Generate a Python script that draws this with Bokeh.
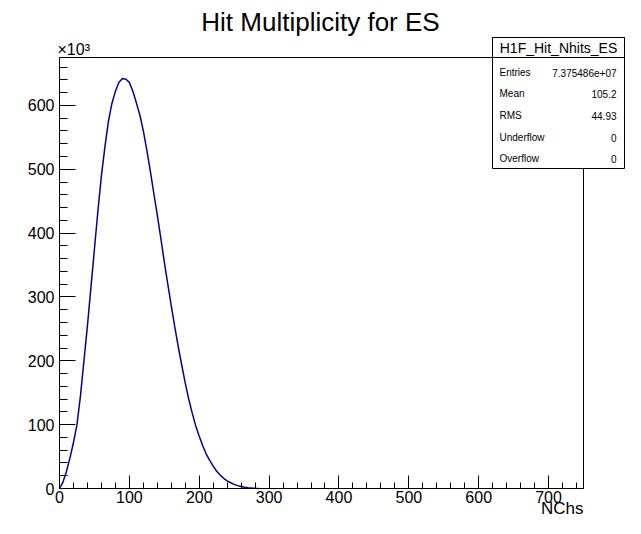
from bokeh.plotting import figure
from bokeh.models import Range1d, FixedTicker, Label, BoxAnnotation
from bokeh.embed import file_html
from bokeh.resources import INLINE

# ---------------- data ----------------
title_text = "Hit Multiplicity for ES"
x_label = "NChs"
y_scale_text = "\u00d710\u00b3"

nchs = [0, 5, 10, 15, 20, 25, 30, 35, 40, 45, 50, 55, 60, 65, 70, 75, 80, 85,
        90, 95, 100, 105, 110, 115, 120, 125, 130, 135, 140, 145, 150, 155,
        160, 165, 170, 175, 180, 185, 190, 195, 200, 205, 210, 215, 220, 225,
        230, 235, 240, 245, 250, 255, 260, 265, 270, 275, 280, 285]
counts_k = [0, 10, 27, 48, 72, 100, 145, 200, 255, 315, 375, 435, 490, 535,
            575, 603, 622, 636, 642, 641, 636, 622, 604, 585, 560, 530, 497,
            462, 428, 392, 355, 320, 286, 253, 222, 193, 165, 140, 118, 98, 82,
            67, 54, 44, 35, 27, 21, 16, 12, 9, 6.5, 4.5, 3, 2, 1.2, 0.6, 0.2, 0]

x_limits = [0, 750]
y_limits = [0, 675]
x_ticks = [0, 100, 200, 300, 400, 500, 600, 700]
x_tick_labels = ["0", "100", "200", "300", "400", "500", "600", "700"]
x_minor_ticks = list(range(0, 751, 20))
y_ticks = [0, 100, 200, 300, 400, 500, 600]
y_tick_labels = ["0", "100", "200", "300", "400", "500", "600"]
y_minor_ticks = list(range(0, 675, 20))

stats_name = "H1F_Hit_Nhits_ES"
stats_keys = ["Entries", "Mean", "RMS", "Underflow", "Overflow"]
stats_vals = ["7.375486e+07", "105.2", "44.93", "0", "0"]

FONT = "Liberation Sans"

# ---------------- layout (canvas pixels) ----------------
W, H = 625, 518
FL, FR, FT, FB = 59, 583, 57, 488      # histogram frame edges on the canvas

kx = (FR - FL) / (x_limits[1] - x_limits[0])
ky = (FB - FT) / (y_limits[1] - y_limits[0])
x_range = Range1d(x_limits[0] - FL / kx, x_limits[1] + (W - FR) / kx)
y_range = Range1d(y_limits[0] - (H - FB) / ky, y_limits[1] + FT / ky)


def sy(py):
    return H - py


p = figure(width=W, height=H, x_range=x_range, y_range=y_range,
           output_backend="svg", toolbar_location=None, title=None,
           min_border=0, min_border_left=0, min_border_right=0,
           min_border_top=0, min_border_bottom=0)
p.background_fill_color = "white"
p.border_fill_color = "white"
p.outline_line_color = None
p.xgrid.visible = False
p.ygrid.visible = False

# histogram frame
p.quad(left=[x_limits[0]], right=[x_limits[1]], bottom=[y_limits[0]], top=[y_limits[1]],
       fill_color=None, line_color="black", line_width=1)

p.line(nchs, counts_k, line_color="#000099", line_width=1.5)

xa = p.xaxis[0]
xa.fixed_location = y_limits[0]
xa.bounds = (x_limits[0], x_limits[1])
xa.ticker = FixedTicker(ticks=x_ticks, minor_ticks=x_minor_ticks)
xa.major_label_overrides = {t: l for t, l in zip(x_ticks, x_tick_labels)}
xa.major_tick_in = 13
xa.major_tick_out = 0
xa.minor_tick_in = 6
xa.minor_tick_out = 0
xa.major_label_standoff = 2

ya = p.yaxis[0]
ya.fixed_location = x_limits[0]
ya.bounds = (y_limits[0], y_limits[1])
ya.ticker = FixedTicker(ticks=y_ticks, minor_ticks=y_minor_ticks)
ya.major_label_overrides = {t: l for t, l in zip(y_ticks, y_tick_labels)}
ya.major_tick_in = 16
ya.major_tick_out = 0
ya.minor_tick_in = 8
ya.minor_tick_out = 0
ya.major_label_standoff = 5

for ax in (xa, ya):
    ax.axis_line_color = "black"
    ax.major_tick_line_color = "black"
    ax.minor_tick_line_color = "black"
    ax.major_label_text_font = FONT
    ax.major_label_text_font_size = "16px"
    ax.major_label_text_color = "black"

# title
p.add_layout(Label(x=320, y=sy(21), x_units="screen", y_units="screen", text=title_text,
                   text_font=FONT, text_font_size="26px", text_align="center",
                   text_baseline="middle", text_color="black"))
# x10^3
p.add_layout(Label(x=57, y=sy(49), x_units="screen", y_units="screen", text=y_scale_text,
                   text_font=FONT, text_font_size="16px", text_align="left",
                   text_baseline="middle", text_color="black"))
# x axis title
p.add_layout(Label(x=x_limits[1], y=sy(517), x_units="data", y_units="screen", text=x_label,
                   text_font=FONT, text_font_size="17px", text_align="right",
                   text_baseline="bottom", text_color="black"))

# stats box
BL, BR, BT, BH, BB = 492, 624, 37, 57, 168
for top, bottom in ((BT, BB), (BT, BH)):
    p.add_layout(BoxAnnotation(left=BL, right=BR, top=sy(top), bottom=sy(bottom),
                               left_units="screen", right_units="screen",
                               top_units="screen", bottom_units="screen",
                               fill_color="white", fill_alpha=1.0,
                               line_color="black", line_width=1, line_alpha=1.0,
                               level="overlay"))
p.add_layout(Label(x=(BL + BR) / 2, y=sy(47), x_units="screen", y_units="screen",
                   text=stats_name, text_font=FONT, text_font_size="14px",
                   text_align="center", text_baseline="middle", text_color="black",
                   level="overlay"))
row_y = [72, 93, 115, 137, 158]
for key, val, yy in zip(stats_keys, stats_vals, row_y):
    p.add_layout(Label(x=BL + 7, y=sy(yy), x_units="screen", y_units="screen", text=key,
                       text_font=FONT, text_font_size="10px", text_align="left",
                       text_baseline="middle", text_color="black", level="overlay"))
    p.add_layout(Label(x=BR - 8, y=sy(yy), x_units="screen", y_units="screen", text=val,
                       text_font=FONT, text_font_size="10px", text_align="right",
                       text_baseline="middle", text_color="black", level="overlay"))

open("out.html", "w").write(file_html(p, INLINE))
